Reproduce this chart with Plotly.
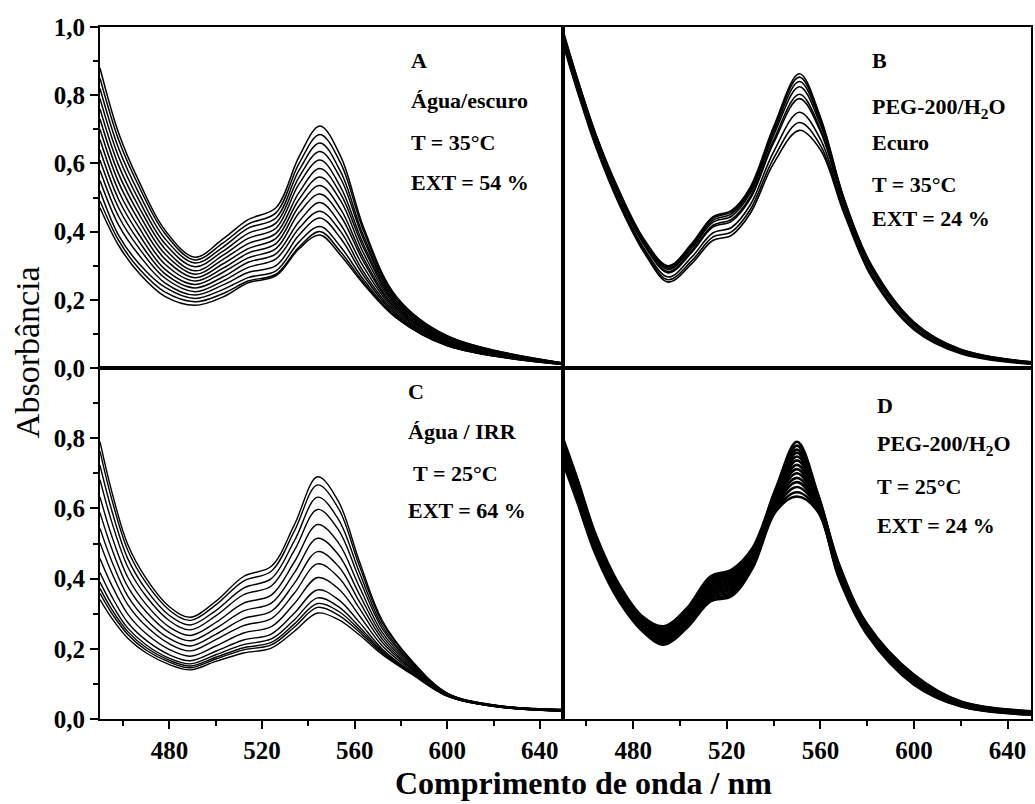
import plotly.graph_objects as go

# ---------------- data ----------------
WL_A = [450, 458, 467, 478, 491, 503, 514, 526, 536, 545, 554, 564, 578, 600, 650]
A_CURVES = [
    [0.88, 0.69, 0.545, 0.405, 0.325, 0.378, 0.435, 0.47, 0.62, 0.71, 0.62, 0.41, 0.21, 0.095, 0.015],
    [0.85, 0.67, 0.53, 0.395, 0.317, 0.366, 0.422, 0.455, 0.60, 0.685, 0.60, 0.40, 0.205, 0.093, 0.015],
    [0.82, 0.645, 0.51, 0.38, 0.308, 0.354, 0.41, 0.44, 0.58, 0.66, 0.575, 0.385, 0.20, 0.09, 0.015],
    [0.79, 0.62, 0.49, 0.365, 0.297, 0.342, 0.395, 0.425, 0.56, 0.635, 0.555, 0.375, 0.195, 0.088, 0.014],
    [0.76, 0.595, 0.47, 0.35, 0.285, 0.33, 0.38, 0.41, 0.54, 0.61, 0.53, 0.36, 0.19, 0.085, 0.014],
    [0.73, 0.57, 0.45, 0.335, 0.275, 0.318, 0.365, 0.395, 0.515, 0.585, 0.51, 0.35, 0.185, 0.083, 0.013],
    [0.70, 0.545, 0.43, 0.32, 0.265, 0.305, 0.35, 0.38, 0.495, 0.56, 0.49, 0.335, 0.18, 0.08, 0.013],
    [0.67, 0.52, 0.41, 0.305, 0.255, 0.292, 0.337, 0.365, 0.475, 0.535, 0.465, 0.32, 0.175, 0.078, 0.013],
    [0.64, 0.495, 0.39, 0.29, 0.245, 0.28, 0.323, 0.35, 0.455, 0.51, 0.445, 0.31, 0.17, 0.076, 0.012],
    [0.61, 0.47, 0.37, 0.277, 0.235, 0.267, 0.31, 0.335, 0.43, 0.485, 0.42, 0.295, 0.165, 0.074, 0.012],
    [0.58, 0.445, 0.35, 0.264, 0.224, 0.255, 0.295, 0.32, 0.41, 0.46, 0.40, 0.28, 0.16, 0.072, 0.011],
    [0.55, 0.42, 0.33, 0.25, 0.214, 0.243, 0.28, 0.30, 0.39, 0.44, 0.38, 0.27, 0.155, 0.07, 0.011],
    [0.52, 0.39, 0.305, 0.237, 0.204, 0.23, 0.265, 0.285, 0.37, 0.415, 0.355, 0.258, 0.15, 0.067, 0.01],
    [0.49, 0.375, 0.29, 0.223, 0.194, 0.218, 0.255, 0.275, 0.355, 0.40, 0.34, 0.25, 0.148, 0.066, 0.01],
    [0.47, 0.36, 0.277, 0.21, 0.184, 0.208, 0.25, 0.27, 0.35, 0.39, 0.33, 0.245, 0.147, 0.065, 0.01],
]

WL_B = [450, 456, 464, 474, 485, 495, 505, 514, 522, 530, 540, 551, 560, 570, 582, 600, 620, 650]
B_CURVES = [
    [0.99, 0.853, 0.687, 0.52, 0.374, 0.30, 0.365, 0.443, 0.462, 0.53, 0.707, 0.863, 0.736, 0.50, 0.30, 0.135, 0.055, 0.018],
    [0.988, 0.851, 0.685, 0.518, 0.372, 0.297, 0.361, 0.439, 0.458, 0.525, 0.701, 0.853, 0.730, 0.497, 0.298, 0.134, 0.054, 0.018],
    [0.984, 0.848, 0.682, 0.514, 0.369, 0.293, 0.357, 0.433, 0.452, 0.519, 0.692, 0.840, 0.723, 0.494, 0.295, 0.132, 0.053, 0.017],
    [0.981, 0.844, 0.678, 0.511, 0.365, 0.289, 0.351, 0.427, 0.445, 0.512, 0.682, 0.825, 0.714, 0.490, 0.292, 0.130, 0.052, 0.016],
    [0.976, 0.839, 0.673, 0.506, 0.36, 0.283, 0.344, 0.418, 0.436, 0.502, 0.668, 0.803, 0.701, 0.484, 0.287, 0.127, 0.05, 0.015],
    [0.972, 0.836, 0.67, 0.502, 0.357, 0.279, 0.339, 0.413, 0.43, 0.496, 0.66, 0.79, 0.694, 0.48, 0.285, 0.125, 0.049, 0.015],
    [0.963, 0.826, 0.66, 0.493, 0.347, 0.267, 0.325, 0.396, 0.412, 0.478, 0.634, 0.75, 0.671, 0.469, 0.276, 0.119, 0.046, 0.013],
    [0.956, 0.819, 0.653, 0.486, 0.34, 0.259, 0.314, 0.384, 0.399, 0.464, 0.615, 0.72, 0.653, 0.461, 0.27, 0.115, 0.044, 0.012],
    [0.95, 0.814, 0.648, 0.48, 0.335, 0.252, 0.306, 0.374, 0.389, 0.453, 0.60, 0.697, 0.64, 0.455, 0.265, 0.112, 0.042, 0.011],
]

WL_C = [450, 455, 462, 470, 480, 489, 500, 512, 524, 534, 544, 553, 562, 572, 585, 600, 620, 650]
C_CURVES = [
    [0.79, 0.65, 0.497, 0.40, 0.32, 0.29, 0.335, 0.406, 0.435, 0.554, 0.69, 0.62, 0.45, 0.28, 0.164, 0.074, 0.04, 0.027],
    [0.763, 0.628, 0.481, 0.387, 0.310, 0.281, 0.325, 0.393, 0.421, 0.536, 0.667, 0.600, 0.437, 0.274, 0.162, 0.073, 0.04, 0.027],
    [0.723, 0.596, 0.457, 0.368, 0.295, 0.268, 0.309, 0.373, 0.40, 0.508, 0.632, 0.569, 0.419, 0.265, 0.158, 0.073, 0.039, 0.026],
    [0.682, 0.563, 0.433, 0.349, 0.28, 0.254, 0.294, 0.354, 0.379, 0.481, 0.597, 0.539, 0.40, 0.257, 0.155, 0.072, 0.039, 0.026],
    [0.633, 0.523, 0.404, 0.326, 0.262, 0.238, 0.275, 0.33, 0.353, 0.448, 0.554, 0.502, 0.377, 0.246, 0.151, 0.071, 0.039, 0.025],
    [0.588, 0.487, 0.377, 0.305, 0.246, 0.223, 0.258, 0.308, 0.33, 0.417, 0.515, 0.468, 0.356, 0.236, 0.147, 0.07, 0.038, 0.025],
    [0.543, 0.451, 0.35, 0.283, 0.229, 0.208, 0.241, 0.286, 0.307, 0.387, 0.477, 0.435, 0.335, 0.227, 0.143, 0.069, 0.038, 0.024],
    [0.502, 0.418, 0.326, 0.264, 0.214, 0.194, 0.226, 0.266, 0.286, 0.359, 0.442, 0.404, 0.316, 0.218, 0.14, 0.068, 0.037, 0.024],
    [0.457, 0.382, 0.299, 0.243, 0.198, 0.179, 0.208, 0.245, 0.263, 0.329, 0.403, 0.371, 0.295, 0.208, 0.136, 0.067, 0.037, 0.023],
    [0.417, 0.35, 0.275, 0.224, 0.183, 0.166, 0.193, 0.225, 0.242, 0.302, 0.368, 0.34, 0.276, 0.199, 0.132, 0.067, 0.037, 0.023],
    [0.39, 0.328, 0.259, 0.211, 0.173, 0.157, 0.183, 0.212, 0.228, 0.283, 0.345, 0.32, 0.263, 0.194, 0.13, 0.066, 0.036, 0.023],
    [0.372, 0.313, 0.249, 0.203, 0.167, 0.151, 0.176, 0.203, 0.218, 0.271, 0.329, 0.307, 0.255, 0.19, 0.129, 0.066, 0.036, 0.022],
    [0.358, 0.302, 0.241, 0.196, 0.162, 0.146, 0.171, 0.197, 0.211, 0.262, 0.318, 0.296, 0.248, 0.187, 0.128, 0.065, 0.036, 0.022],
    [0.34, 0.288, 0.23, 0.188, 0.155, 0.14, 0.164, 0.188, 0.202, 0.25, 0.302, 0.283, 0.24, 0.183, 0.126, 0.065, 0.036, 0.022],
]

WL_D = [450, 456, 464, 474, 484, 493, 503, 513, 522, 531, 541, 550, 559, 568, 580, 600, 620, 650]
D_CURVES = [
    [0.80, 0.687, 0.525, 0.383, 0.292, 0.264, 0.316, 0.406, 0.425, 0.487, 0.658, 0.79, 0.64, 0.44, 0.27, 0.126, 0.05, 0.022],
    [0.795, 0.682, 0.521, 0.380, 0.289, 0.260, 0.312, 0.401, 0.420, 0.483, 0.653, 0.779, 0.637, 0.437, 0.268, 0.124, 0.049, 0.021],
    [0.79, 0.678, 0.517, 0.376, 0.286, 0.257, 0.308, 0.396, 0.415, 0.479, 0.649, 0.768, 0.633, 0.434, 0.266, 0.122, 0.048, 0.021],
    [0.786, 0.674, 0.514, 0.373, 0.284, 0.254, 0.305, 0.392, 0.41, 0.476, 0.645, 0.759, 0.63, 0.432, 0.264, 0.12, 0.047, 0.02],
    [0.781, 0.669, 0.51, 0.37, 0.281, 0.25, 0.301, 0.387, 0.405, 0.472, 0.64, 0.748, 0.627, 0.429, 0.262, 0.118, 0.046, 0.019],
    [0.776, 0.664, 0.506, 0.367, 0.278, 0.246, 0.297, 0.382, 0.4, 0.468, 0.636, 0.737, 0.623, 0.426, 0.26, 0.116, 0.045, 0.019],
    [0.771, 0.659, 0.501, 0.363, 0.274, 0.242, 0.292, 0.376, 0.394, 0.463, 0.63, 0.724, 0.619, 0.423, 0.257, 0.114, 0.044, 0.018],
    [0.765, 0.654, 0.497, 0.359, 0.271, 0.238, 0.288, 0.371, 0.388, 0.459, 0.625, 0.712, 0.615, 0.42, 0.255, 0.112, 0.043, 0.017],
    [0.759, 0.648, 0.492, 0.355, 0.268, 0.234, 0.284, 0.365, 0.382, 0.454, 0.62, 0.70, 0.611, 0.417, 0.253, 0.11, 0.042, 0.016],
    [0.754, 0.643, 0.487, 0.351, 0.264, 0.23, 0.279, 0.359, 0.376, 0.449, 0.614, 0.687, 0.607, 0.414, 0.25, 0.108, 0.041, 0.015],
    [0.748, 0.637, 0.483, 0.347, 0.261, 0.226, 0.275, 0.353, 0.37, 0.445, 0.609, 0.675, 0.603, 0.41, 0.248, 0.105, 0.04, 0.015],
    [0.742, 0.631, 0.478, 0.343, 0.257, 0.221, 0.27, 0.347, 0.363, 0.44, 0.603, 0.661, 0.599, 0.407, 0.245, 0.103, 0.038, 0.014],
    [0.736, 0.625, 0.473, 0.339, 0.253, 0.216, 0.264, 0.341, 0.356, 0.435, 0.597, 0.646, 0.594, 0.403, 0.242, 0.1, 0.037, 0.013],
    [0.73, 0.62, 0.468, 0.335, 0.25, 0.212, 0.26, 0.335, 0.35, 0.43, 0.592, 0.634, 0.59, 0.40, 0.24, 0.098, 0.036, 0.012],
]

PANEL_TEXT_A = ["<b>A</b>", "<b>Água/escuro</b>", "<b>T = 35°C</b>", "<b>EXT = 54 %</b>"]
PANEL_TEXT_B = ["<b>B</b>", "<b>PEG-200/H<sub>2</sub>O</b>", "<b>Ecuro</b>", "<b>T = 35°C</b>", "<b>EXT = 24 %</b>"]
PANEL_TEXT_C = ["<b>C</b>", "<b>Água / IRR</b>", "<b> T = 25°C</b>", "<b>EXT = 64 %</b>"]
PANEL_TEXT_D = ["<b>D</b>", "<b>PEG-200/H<sub>2</sub>O</b>", "<b>T = 25°C</b>", "<b>EXT = 24 %</b>"]

X_TICKS = [480, 520, 560, 600, 640]
Y_TICKS_TOP = [0.0, 0.2, 0.4, 0.6, 0.8, 1.0]
Y_TICKS_BOTTOM = [0.0, 0.2, 0.4, 0.6, 0.8]

# ---------------- figure ----------------
SERIF = "Liberation Serif, Times New Roman, serif"
fig = go.Figure()

panels = [
    (WL_A, A_CURVES, "x", "y", 1.5),
    (WL_B, B_CURVES, "x2", "y2", 1.6),
    (WL_C, C_CURVES, "x3", "y3", 1.4),
    (WL_D, D_CURVES, "x4", "y4", 2.6),
]
for wl, curves, xa, ya, lw in panels:
    for c in curves:
        fig.add_trace(go.Scatter(
            x=wl, y=c, xaxis=xa, yaxis=ya, mode="lines",
            line=dict(color="black", width=lw, shape="spline", smoothing=1.0),
            showlegend=False, hoverinfo="skip"))

XS = 0.4973
YS = 0.5072
common_x = dict(range=[450, 650], showline=True, mirror=True, linecolor="black",
                linewidth=2, showgrid=False, zeroline=False)
common_y = dict(range=[0, 1.0], showline=True, mirror=True, linecolor="black",
                linewidth=2, showgrid=False, zeroline=False)
tickfont = dict(family=SERIF, size=25, color="black", weight="bold")

xb = dict(ticks="outside", ticklen=8, tickwidth=2, tickcolor="black",
          tickvals=X_TICKS, tickfont=tickfont,
          minor=dict(ticks="outside", ticklen=5, tickwidth=1.5, tickcolor="black",
                     tickvals=[460, 500, 540, 580, 620]))
xt = dict(ticks="", showticklabels=False)

yl_minor = dict(ticks="outside", ticklen=5, tickwidth=1.5, tickcolor="black",
                tickvals=[0.1, 0.3, 0.5, 0.7, 0.9])

fig.update_layout(
    width=1035, height=804,
    margin=dict(l=100, r=2, t=27, b=85),
    paper_bgcolor="white", plot_bgcolor="white",
    separators=",.",
    xaxis=dict(domain=[0, XS], anchor="y", **common_x, **xt),
    xaxis2=dict(domain=[XS, 1], anchor="y2", **common_x, **xt),
    xaxis3=dict(domain=[0, XS], anchor="y3", **common_x, **xb),
    xaxis4=dict(domain=[XS, 1], anchor="y4", **common_x, **xb),
    yaxis=dict(domain=[YS, 1], anchor="x", **common_y, ticks="outside", ticklen=8,
               tickwidth=2, tickcolor="black", tickvals=Y_TICKS_TOP, tickformat=".1f",
               tickfont=tickfont, minor=yl_minor),
    yaxis2=dict(domain=[YS, 1], anchor="x2", **common_y, ticks="", showticklabels=False),
    yaxis3=dict(domain=[0, YS], anchor="x3", **common_y, ticks="outside", ticklen=8,
                tickwidth=2, tickcolor="black", tickvals=Y_TICKS_BOTTOM, tickformat=".1f",
                tickfont=tickfont, minor=yl_minor),
    yaxis4=dict(domain=[0, YS], anchor="x4", **common_y, ticks="", showticklabels=False),
)

annfont = dict(family=SERIF, size=22, color="black")


def px_x(x):
    return (x - 100) / 933.0


def px_y(y):
    return (719 - y) / 692.0


text_blocks = [
    (PANEL_TEXT_A, 410, [60, 100, 142, 182]),
    (PANEL_TEXT_B, 872, [60, 108, 142, 185, 218]),
    (PANEL_TEXT_C, 407, [391, 431, 474, 511]),
    (PANEL_TEXT_D, 877, [405, 445, 486, 525]),
]
for lines, x0, ys in text_blocks:
    for t, yy in zip(lines, ys):
        fig.add_annotation(x=px_x(x0), y=px_y(yy), xref="paper", yref="paper",
                           text=t, showarrow=False, xanchor="left", yanchor="middle",
                           font=annfont)

fig.add_annotation(x=px_x(27), y=px_y(352), xref="paper", yref="paper",
                   text="Absorbância", textangle=-90, showarrow=False,
                   xanchor="center", yanchor="middle",
                   font=dict(family=SERIF, size=34, color="black"))
fig.add_annotation(x=px_x(585), y=px_y(783), xref="paper", yref="paper",
                   text="<b>Comprimento de onda / nm</b>", showarrow=False,
                   xanchor="center", yanchor="middle",
                   font=dict(family=SERIF, size=32, color="black"))

fig.write_html("out.html")
